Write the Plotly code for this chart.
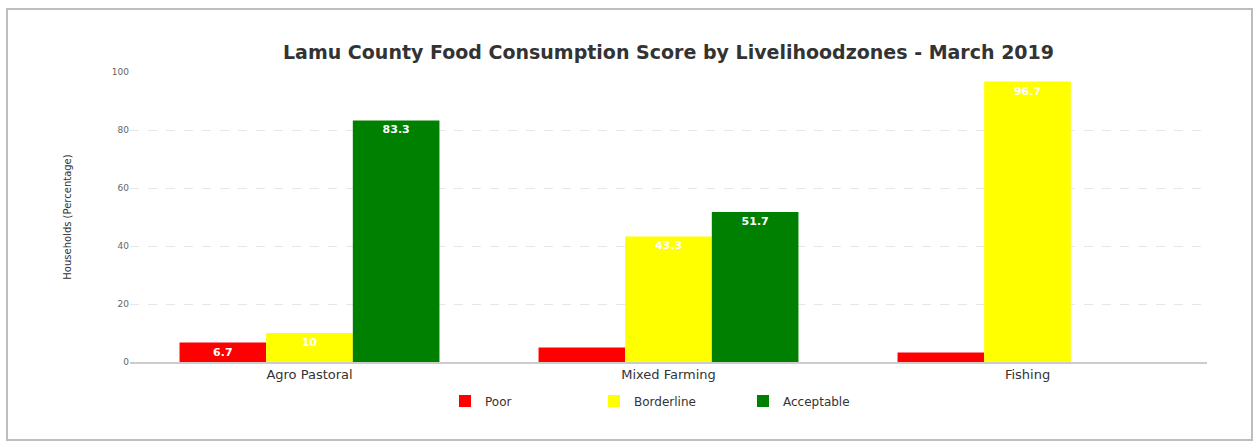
import plotly.graph_objects as go

# Food consumption score shares (% of households) per livelihood zone
zones = ["Agro Pastoral", "Mixed Farming", "Fishing"]
poor = [6.7, 5.0, 3.3]
borderline = [10.0, 43.3, 96.7]
acceptable = [83.3, 51.7, 0.0]

series = [
    ("Poor", poor, "#ff0000"),
    ("Borderline", borderline, "#ffff00"),
    ("Acceptable", acceptable, "#008000"),
]

W, H = 1255, 443
L, R, T, B = 130, 48, 72, 81
plot_w, plot_h = W - L - R, H - T - B


def labels(values):
    # bars too short to hold a label are left unlabeled
    return [f"{v:g}" if v >= 6 else "" for v in values]


fig = go.Figure()
for name, vals, color in series:
    fig.add_trace(go.Bar(
        name=name,
        x=zones,
        y=vals,
        marker=dict(color=color, line=dict(width=0)),
        text=labels(vals),
        textposition="inside",
        insidetextanchor="end",
        textangle=0,
        textfont=dict(color="white", size=11, family="DejaVu Sans", weight="bold"),
        constraintext="none",
        hoverinfo="x+y+name",
    ))

# outer frame around the whole chart
def px_x(p):
    return (p - L) / plot_w


def px_y(p):
    return (H - B - p) / plot_h


fig.add_shape(
    type="rect", xref="paper", yref="paper",
    x0=px_x(7), x1=px_x(1252), y0=px_y(440), y1=px_y(9),
    line=dict(color="#bdbdbd", width=2), fillcolor="rgba(0,0,0,0)",
    layer="below",
)

fig.update_layout(
    width=W, height=H,
    margin=dict(l=L, r=R, t=T, b=B),
    paper_bgcolor="white", plot_bgcolor="white",
    barmode="group", bargap=0.276, bargroupgap=0,
    font=dict(family="DejaVu Sans", color="#333333"),
    title=dict(
        text="<b>Lamu County Food Consumption Score by Livelihoodzones - March 2019</b>",
        x=0.5, xref="paper", xanchor="center",
        y=1 - 52 / H, yanchor="middle",
        font=dict(size=19, color="#333333", family="DejaVu Sans"),
    ),
    xaxis=dict(
        showgrid=False,
        showline=True, linecolor="#cccccc", linewidth=1.5,
        ticks="", tickfont=dict(size=13, color="#333333"),
    ),
    yaxis=dict(
        range=[0, 100], tickvals=[0, 20, 40, 60, 80, 100],
        showgrid=True, gridcolor="#e6e6e6", griddash="dash", gridwidth=1,
        zeroline=False, showline=False,
        tickfont=dict(size=9, color="#666666"),
        ticks="", ticklen=0,
        title=dict(text="Households (Percentage)", standoff=38,
                   font=dict(size=10, color="#333333")),
    ),
    legend=dict(
        orientation="h", x=0.5, xanchor="center",
        y=px_y(401), yanchor="middle",
        font=dict(size=12, color="#333333"),
        itemwidth=30,
        entrywidth=104,
        tracegroupgap=0,
    ),
)

fig.write_html("out.html")
